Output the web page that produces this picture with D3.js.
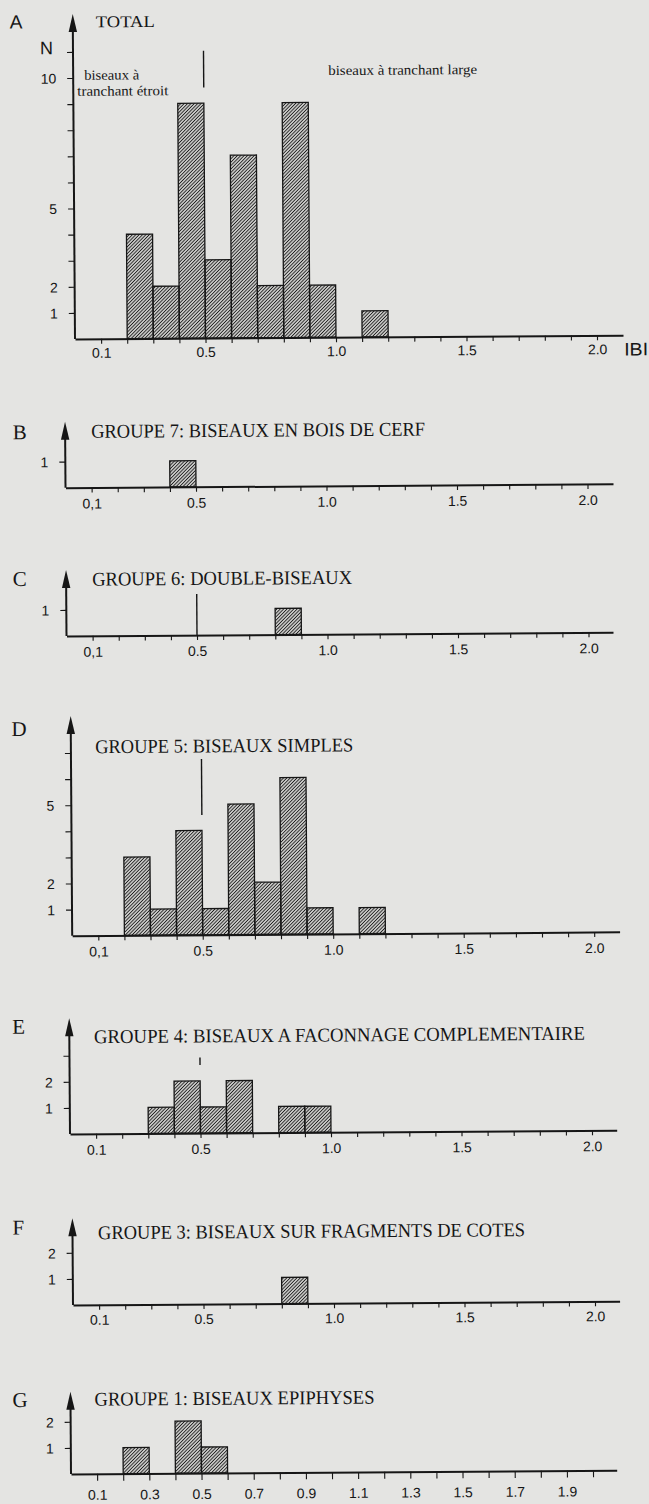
<!DOCTYPE html>
<html><head><meta charset="utf-8">
<script src="https://cdn.jsdelivr.net/npm/d3@7"></script>
<style>
html,body{margin:0;padding:0;background:#e4e4e2;}
svg{display:block;}
</style></head><body>
<script>
// ---------- DATA ----------
const binStarts = [0.2,0.3,0.4,0.5,0.6,0.7,0.8,0.9,1.0,1.1];
const binWidth = 0.1;
const totalCounts   = [4,2,9,3,7,2,9,2,0,1];
const groupe7Counts = [0,0,1,0,0,0,0,0,0,0];
const groupe6Counts = [0,0,0,0,0,0,1,0,0,0];
const groupe5Counts = [3,1,4,1,5,2,6,1,0,1];
const groupe4Counts = [0,1,2,1,2,0,1,1,0,0];
const groupe3Counts = [0,0,0,0,0,0,1,0,0,0];
const groupe1Counts = [1,0,2,1,0,0,0,0,0,0];

const panelLetters = ["A","B","C","D","E","F","G"];
const panelTitles = [
  "TOTAL",
  "GROUPE 7: BISEAUX EN BOIS DE CERF",
  "GROUPE 6: DOUBLE-BISEAUX",
  "GROUPE 5: BISEAUX SIMPLES",
  "GROUPE 4: BISEAUX A FACONNAGE COMPLEMENTAIRE",
  "GROUPE 3: BISEAUX SUR FRAGMENTS DE COTES",
  "GROUPE 1: BISEAUX EPIPHYSES"
];
const xTickValues = d3.range(1,21).map(i => i/10);
const xLabelsStandard = [0.1,0.5,1.0,1.5,2.0];
const xLabelsOdd = [0.1,0.3,0.5,0.7,0.9,1.1,1.3,1.5,1.7,1.9];
const dividerValue = 0.5;
const annotNarrow = ["biseaux à","tranchant étroit"];
const annotWide = "biseaux à tranchant large";
const yAxisTitle = "N";
const xAxisTitle = "IBI";

// ---------- LAYOUT ----------
const W = 649, H = 1504;
const pxPerUnit = 261;   // x: pixels per 1.0 IBI
const pxPerCount = 26.1; // y: pixels per specimen
const tilt = -0.4;
const ink = "#161616";
const serif = "'Liberation Serif','Times New Roman',serif";
const sans = "'Liberation Sans',Arial,sans-serif";

const panels = [
  {counts: totalCounts,   x0:75,   base:339,   top:14,     xEnd:623, yMax:11, yLabels:[1,2,5,10], xLabels:xLabelsStandard, comma:false,
   title:{x:98, y:21.7, w:59, size:16.5}, letter:{x:12, y:21.5, sans:true}, divider:[51.7,88.3], labelDy:14, tick:5},
  {counts: groupe7Counts, x0:65.5, base:487.7, top:421.7,  xEnd:613, yMax:1, yLabels:[1], xLabels:xLabelsStandard, comma:true,
   title:{x:91.5, y:431.2, w:334, size:19.5}, letter:{x:13, y:431.5}, divider:null, labelDy:16, tick:5},
  {counts: groupe6Counts, x0:66.5, base:636,   top:570,    xEnd:613, yMax:1, yLabels:[1], xLabels:xLabelsStandard, comma:true,
   title:{x:92.5, y:579, w:260, size:19.5}, letter:{x:13, y:578.3}, divider:[595,636], labelDy:16, tick:5},
  {counts: groupe5Counts, x0:72.2, base:935.7, top:716,    xEnd:619.6, yMax:7, yLabels:[1,2,5], xLabels:xLabelsStandard, comma:true,
   title:{x:96.5, y:746.5, w:258, size:19.5}, letter:{x:13, y:728.3}, divider:[760,816], labelDy:16, tick:5},
  {counts: groupe4Counts, x0:70,   base:1134,  top:1018.3, xEnd:616.7, yMax:3, yLabels:[1,2], xLabels:xLabelsStandard, comma:false,
   title:{x:94.7, y:1036.5, w:491, size:19.5}, letter:{x:13, y:1026}, divider:[1058.3,1066], labelDy:16, tick:5},
  {counts: groupe3Counts, x0:73,   base:1305,  top:1218.3, xEnd:619.6, yMax:2, yLabels:[1,2], xLabels:xLabelsStandard, comma:false,
   title:{x:98.5, y:1232.5, w:427, size:19.5}, letter:{x:13, y:1226.7}, divider:null, labelDy:15, tick:5},
  {counts: groupe1Counts, x0:71,   base:1474,  top:1391.7, xEnd:616.7, yMax:2, yLabels:[1,2], xLabels:xLabelsOdd, comma:false,
   title:{x:95, y:1399, w:280, size:19.5}, letter:{x:13, y:1399.3}, divider:null, labelDy:21, tick:7}
];

// ---------- DRAW ----------
const svg = d3.select("body").append("svg").attr("width",W).attr("height",H);
svg.append("rect").attr("width",W).attr("height",H).attr("fill","#e4e4e2");

const defs = svg.append("defs");
const pat = defs.append("pattern").attr("id","hatch")
  .attr("patternUnits","userSpaceOnUse").attr("width",2.4).attr("height",10)
  .attr("patternTransform","rotate(45)");
pat.append("line").attr("x1",1.2).attr("x2",1.2).attr("y1",-1).attr("y2",11)
  .attr("stroke","#1e1e1e").attr("stroke-width",1.05);

function fmt(v, comma){
  const s = v.toFixed(1);
  return (comma && Math.abs(v-0.1)<1e-9) ? s.replace(".",",") : s;
}

panels.forEach((p, idx) => {
  const g = svg.append("g").attr("transform", `rotate(${tilt},${p.x0},${p.base})`);
  const x = d3.scaleLinear().domain([0, (p.xEnd - p.x0)/pxPerUnit]).range([p.x0, p.xEnd]);
  const y = d3.scaleLinear().domain([0,1]).range([p.base, p.base - pxPerCount]);

  // bars
  const data = binStarts.map((s,i) => ({s, v:p.counts[i]})).filter(d => d.v > 0);
  g.selectAll("rect.bar").data(data).join("rect").attr("class","bar")
    .attr("x", d => x(d.s)).attr("width", d => x(d.s+binWidth) - x(d.s))
    .attr("y", d => y(d.v)).attr("height", d => y(0) - y(d.v))
    .attr("fill","url(#hatch)").attr("stroke",ink).attr("stroke-width",1.3);

  // x axis
  const xa = d3.axisBottom(x).tickValues(xTickValues).tickSize(p.tick).tickSizeOuter(0)
    .tickFormat(d => p.xLabels.some(l => Math.abs(l-d)<1e-9) ? fmt(d, p.comma) : "");
  const gx = g.append("g").attr("transform",`translate(0,${p.base})`).call(xa);
  gx.select(".domain").attr("stroke",ink).attr("stroke-width",2);
  gx.selectAll(".tick line").attr("stroke",ink).attr("stroke-width",1.1);
  gx.selectAll(".tick text").attr("y",p.labelDy).attr("dy","0.35em")
    .attr("fill",ink).style("font-family",sans).style("font-size","14px");

  // y axis
  const ya = d3.axisLeft(y).tickValues(d3.range(1,p.yMax+1)).tickSize(6).tickSizeOuter(0)
    .tickFormat(d => p.yLabels.includes(d) ? String(d) : "");
  const gy = g.append("g").attr("transform",`translate(${p.x0},0)`).call(ya);
  gy.select(".domain").remove();
  gy.selectAll(".tick line").attr("stroke",ink).attr("stroke-width",1.1);
  gy.selectAll(".tick text").attr("x",-17).attr("dy","0.35em")
    .attr("fill",ink).style("font-family",sans).style("font-size","14px");

  // y axis line with arrow
  g.append("line").attr("x1",p.x0).attr("x2",p.x0).attr("y1",p.base).attr("y2",p.top+12)
    .attr("stroke",ink).attr("stroke-width",2);
  g.append("path")
    .attr("d",`M${p.x0},${p.top} L${p.x0-4.2},${p.top+18} L${p.x0+4.2},${p.top+18} Z`)
    .attr("fill",ink);

  // divider
  if (p.divider) {
    g.append("line").attr("x1",x(dividerValue)).attr("x2",x(dividerValue))
      .attr("y1",p.divider[0]).attr("y2",p.divider[1])
      .attr("stroke",ink).attr("stroke-width",1.4);
  }

  // title
  g.append("text").attr("x",p.title.x).attr("y",p.title.y).attr("dy","0.35em")
    .attr("textLength",p.title.w).attr("lengthAdjust","spacingAndGlyphs")
    .style("font-family",serif).style("font-size",p.title.size+"px").attr("fill",ink)
    .text(panelTitles[idx]);

  // panel letter
  g.append("text").attr("x",p.letter.x).attr("y",p.letter.y).attr("dy","0.35em")
    .style("font-family", p.letter.sans ? sans : serif)
    .style("font-size", p.letter.sans ? "19px" : "21px").attr("fill",ink)
    .text(panelLetters[idx]);

  if (idx === 0) {
    g.append("text").attr("x",48.5).attr("y",47.7).attr("dy","0.35em").attr("text-anchor","middle")
      .style("font-family",sans).style("font-size","18px").attr("fill",ink).text(yAxisTitle);
    g.append("text").attr("x",624).attr("y",p.base+14).attr("dy","0.35em")
      .attr("textLength",24).attr("lengthAdjust","spacingAndGlyphs")
      .style("font-family",sans).style("font-size","18px").attr("fill",ink).text(xAxisTitle);
    g.append("text").attr("x",86).attr("y",75).attr("dy","0.35em")
      .attr("textLength",55).attr("lengthAdjust","spacingAndGlyphs")
      .style("font-family",serif).style("font-size","14px").attr("fill",ink).text(annotNarrow[0]);
    g.append("text").attr("x",79).attr("y",91).attr("dy","0.35em")
      .attr("textLength",91).attr("lengthAdjust","spacingAndGlyphs")
      .style("font-family",serif).style("font-size","14px").attr("fill",ink).text(annotNarrow[1]);
    g.append("text").attr("x",330).attr("y",72).attr("dy","0.35em")
      .attr("textLength",149).attr("lengthAdjust","spacingAndGlyphs")
      .style("font-family",serif).style("font-size","14px").attr("fill",ink).text(annotWide);
  }
});
</script>
</body></html>
